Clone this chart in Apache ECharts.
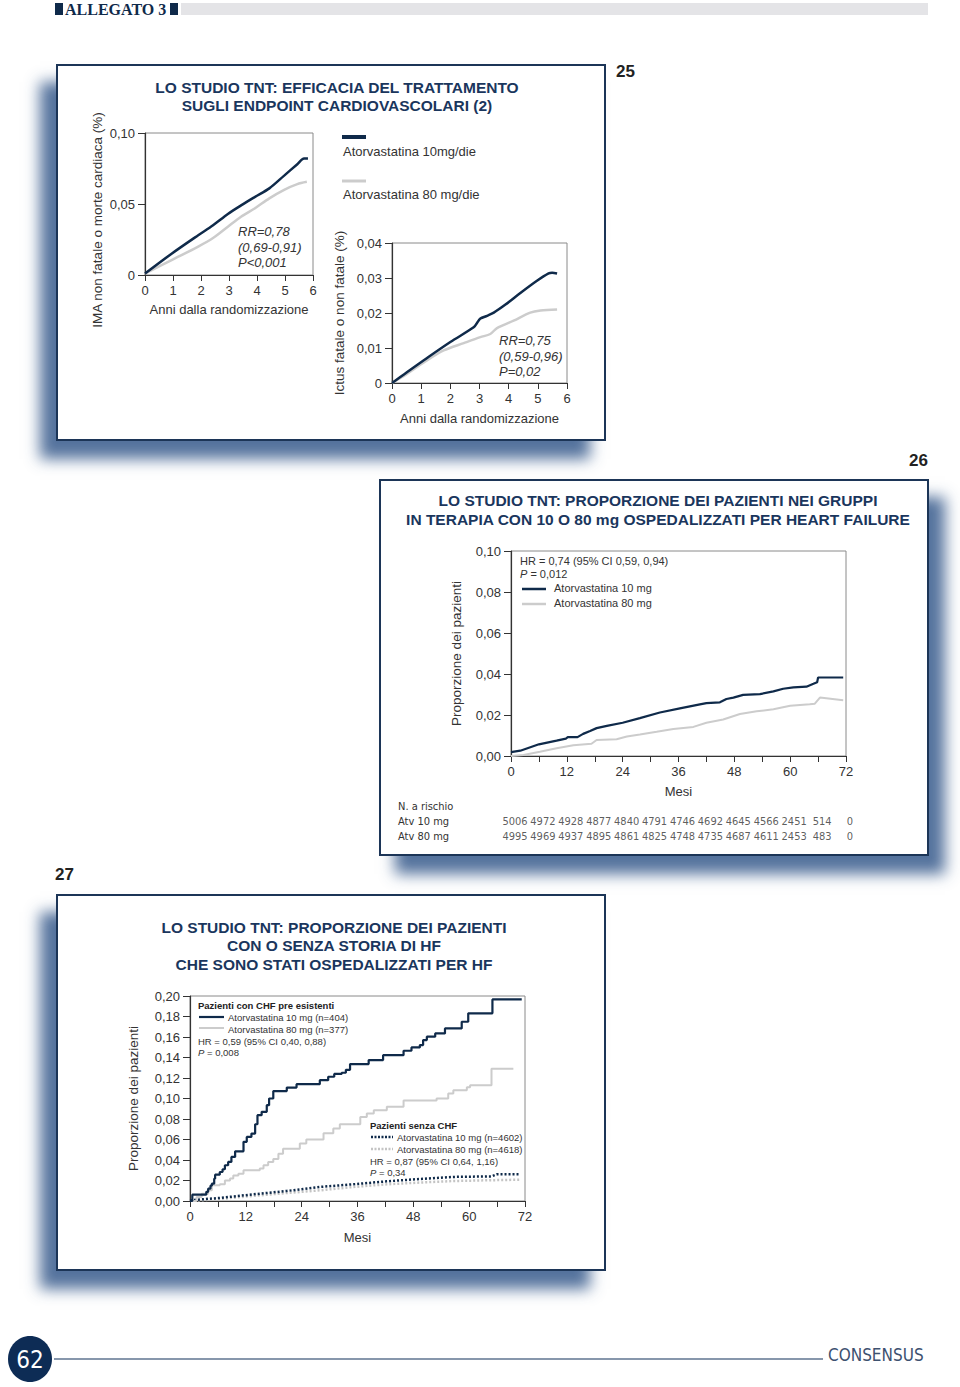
<!DOCTYPE html>
<html><head><meta charset="utf-8">
<script src="https://cdn.jsdelivr.net/npm/echarts@6/dist/echarts.min.js"></script>
<style>
html,body{margin:0;padding:0;background:#fff;}
#wrap{position:relative;width:960px;height:1387px;overflow:hidden;}
.box{position:absolute;background:#fff;border:2px solid #1c3557;box-sizing:border-box;}
#chart{position:absolute;left:0;top:0;width:960px;height:1387px;}
</style></head><body>
<div id="wrap">
<div class="box" style="left:56px;top:64px;width:550px;height:377px;box-shadow:-16px 18px 14px rgba(55,90,140,0.85);"></div>
<div class="box" style="left:379px;top:479px;width:550px;height:377px;box-shadow:16px 18px 14px rgba(55,90,140,0.85);"></div>
<div class="box" style="left:56px;top:894px;width:550px;height:377px;box-shadow:-16px 18px 14px rgba(55,90,140,0.85);"></div>
<div id="chart"></div>
</div>
<script>
// ---------- DATA ----------
// Chart 25 (left): IMA non fatale o morte cardiaca
const imaYears10 = [0, 0.95, 1.9, 2.43, 2.96, 3.43, 3.93, 4.44, 4.97, 5.44, 5.68, 5.82];
const imaVals10  = [0.001, 0.015, 0.028, 0.035, 0.043, 0.049, 0.055, 0.061, 0.070, 0.078, 0.082, 0.082];
const imaYears80 = [0, 0.95, 1.9, 2.43, 2.96, 3.43, 3.93, 4.44, 4.97, 5.44, 5.78];
const imaVals80  = [0.001, 0.0105, 0.020, 0.026, 0.034, 0.041, 0.047, 0.054, 0.060, 0.064, 0.0656];
// Chart 25 (right): Ictus fatale o non fatale
const ictYears10 = [0, 0.51, 1.09, 2.0, 2.8, 2.91, 3.03, 3.26, 3.49, 3.89, 4.4, 4.97, 5.37, 5.49, 5.66];
const ictVals10  = [0, 0.0031, 0.0065, 0.0117, 0.0159, 0.0171, 0.0184, 0.0192, 0.0201, 0.0224, 0.0257, 0.0292, 0.0313, 0.0315, 0.0313];
const ictYears80 = [0, 0.51, 1.09, 1.77, 2.46, 3.03, 3.37, 3.6, 4.17, 4.74, 5.09, 5.66];
const ictVals80  = [0, 0.0026, 0.0059, 0.0093, 0.0114, 0.0131, 0.014, 0.0157, 0.0178, 0.0201, 0.0207, 0.021];
// Chart 26: heart failure hospitalisation
const hfMonths10 = [0, 2, 6, 9.8, 11.8, 12.2, 14.3, 15.5, 17, 18.4, 20.6, 24, 27.7, 32, 36.3, 40.6, 42, 44.9, 46.3, 47.8, 49.9, 53.5, 56.4, 58.5, 60.7, 63.5, 65, 65.8, 66, 71.4];
const hfVals10   = [0.0019, 0.0026, 0.0057, 0.0075, 0.0085, 0.0092, 0.0092, 0.0108, 0.0122, 0.0136, 0.0147, 0.0162, 0.0185, 0.0212, 0.0232, 0.0252, 0.0258, 0.0262, 0.0278, 0.0285, 0.0298, 0.0302, 0.0315, 0.0328, 0.0335, 0.0338, 0.0352, 0.036, 0.0383, 0.0383];
const hfMonths80 = [0, 2.7, 6.2, 9.8, 13.4, 17.3, 18.4, 22.7, 24.9, 27.7, 31.3, 34.9, 39.2, 42, 45.6, 49.2, 52.8, 56.4, 60, 64.2, 65.3, 66.4, 71.4];
const hfVals80   = [0, 0.0005, 0.0021, 0.0038, 0.0052, 0.006, 0.0078, 0.0082, 0.0095, 0.0105, 0.0118, 0.0132, 0.0142, 0.0162, 0.0178, 0.0205, 0.0218, 0.0228, 0.0245, 0.0252, 0.0255, 0.0285, 0.0272];
// Numbers at risk
const riskMonths = [0, 6, 12, 18, 24, 30, 36, 42, 48, 54, 60, 66, 72];
const risk10 = [5006, 4972, 4928, 4877, 4840, 4791, 4746, 4692, 4645, 4566, 2451, 514, 0];
const risk80 = [4995, 4969, 4937, 4895, 4861, 4825, 4748, 4735, 4687, 4611, 2453, 483, 0];
// Chart 27: with / without CHF (step curves: month of event, new cumulative proportion)
const chfMonths10 = [0, 0.5, 3.5, 3.9, 4.4, 4.7, 5.2, 5.4, 6.4, 7, 7.5, 8.2, 8.9, 9.7, 11.5, 12.2, 13.2, 14, 14.5, 15.4, 16.5, 17, 17.9, 20.8, 22.9, 27.9, 29.7, 31, 32.6, 33.5, 34.4, 38.4, 41.5, 45.9, 47.6, 49.4, 50.1, 50.9, 52.7, 54.8, 58.4, 59.8, 65, 71.3];
const chfVals10   = [0, 0.0062, 0.009, 0.012, 0.015, 0.0169, 0.0218, 0.0257, 0.0283, 0.031, 0.0349, 0.0381, 0.043, 0.0485, 0.0577, 0.0625, 0.0658, 0.0749, 0.0837, 0.087, 0.0935, 0.1, 0.1072, 0.1107, 0.114, 0.1179, 0.1212, 0.124, 0.1251, 0.128, 0.1336, 0.1375, 0.1423, 0.1466, 0.1498, 0.1521, 0.157, 0.1603, 0.1635, 0.1684, 0.1749, 0.1831, 0.1967, 0.1967];
const chfMonths80 = [0, 1.4, 2.5, 3.9, 4.7, 6.4, 7.5, 8.6, 9.3, 10.4, 11.5, 15, 15.8, 16.8, 17.9, 19, 20, 23.6, 25, 28.7, 30.8, 32.2, 36.6, 38, 39.5, 42.3, 45.9, 53, 55.5, 56.6, 59.5, 60.2, 64.8, 69.5];
const chfVals80   = [0, 0.004, 0.007, 0.0104, 0.0153, 0.0163, 0.02, 0.022, 0.025, 0.0267, 0.03, 0.0316, 0.0349, 0.038, 0.041, 0.046, 0.051, 0.056, 0.06, 0.066, 0.0707, 0.075, 0.082, 0.0853, 0.0886, 0.0919, 0.098, 0.1, 0.105, 0.108, 0.111, 0.113, 0.129, 0.129];
const noChfMonths10 = [0, 6.4, 13.6, 20.8, 27.9, 35.1, 42.3, 49.4, 56.6, 64.8, 65.9, 71];
const noChfVals10   = [0.0007, 0.003, 0.0065, 0.0098, 0.0137, 0.0163, 0.0192, 0.0215, 0.0235, 0.024, 0.026, 0.026];
const noChfMonths80 = [0, 6.4, 13.6, 20.8, 27.9, 35.1, 42.3, 49.4, 56.6, 63.8, 71];
const noChfVals80   = [0, 0.002, 0.005, 0.0078, 0.0104, 0.0137, 0.0163, 0.018, 0.0195, 0.0202, 0.0208];

// ---------- STYLE ----------
const FONT = "'Liberation Sans', Arial, sans-serif";
const NARROW = "'Liberation Sans Narrow', 'DejaVu Sans Condensed', 'Liberation Sans', sans-serif";
const NAVY = '#0f2a4a';
const TITLE = '#1a365d';
const GREY = '#cccccc';
const TXT = '#333333';

function pairs(xs, ys) { return xs.map((x, i) => [x, ys[i]]); }
function fmt2(v) { return v.toFixed(2).replace('.', ','); }

function T(x, y, text, font, extra) {
  extra = extra || {};
  return {
    type: 'text', x: x, y: y, silent: true, rotation: extra.rotation || 0,
    style: Object.assign({
      text: text, font: font, fill: extra.fill || TXT,
      textAlign: extra.align || 'left', align: extra.align || 'left',
      textVerticalAlign: 'middle', verticalAlign: 'middle'
    }, extra.rich ? { rich: extra.rich } : {})
  };
}
function L(x1, y1, x2, y2, color, w, dash) {
  return { type: 'line', silent: true, shape: { x1, y1, x2, y2 },
    style: { stroke: color, lineWidth: w, lineDash: dash || null } };
}

function xAx(gi, max, interval, labelEvery, name, nameGap) {
  return {
    type: 'value', gridIndex: gi, min: 0, max: max, interval: interval,
    axisLine: { show: true, lineStyle: { color: '#333', width: 1.2 } },
    axisTick: { show: true, inside: false, length: 6, lineStyle: { color: '#333' } },
    axisLabel: { color: TXT, fontSize: 13, fontFamily: FONT, margin: 9,
      formatter: v => (v % labelEvery === 0 ? String(v) : '') },
    splitLine: { show: false },
    name: name, nameLocation: 'middle', nameGap: nameGap,
    nameTextStyle: { color: TXT, fontSize: 13, fontFamily: FONT }
  };
}
function yAx(gi, max, interval, fmt, name, nameGap) {
  return {
    type: 'value', gridIndex: gi, min: 0, max: max, interval: interval,
    axisLine: { show: true, lineStyle: { color: '#333', width: 1.2 } },
    axisTick: { show: true, inside: false, length: 7, lineStyle: { color: '#333' } },
    axisLabel: { color: TXT, fontSize: 13, fontFamily: FONT, margin: 10, formatter: fmt },
    splitLine: { show: false },
    name: name, nameLocation: 'middle', nameGap: nameGap, nameRotate: 90,
    nameTextStyle: { color: TXT, fontSize: 13.5, fontFamily: FONT }
  };
}
function lineS(xi, yi, data, color, width, opts) {
  return Object.assign({
    type: 'line', xAxisIndex: xi, yAxisIndex: yi, data: data, showSymbol: false,
    symbol: 'none', animation: false, silent: true,
    lineStyle: { color: color, width: width }
  }, opts || {});
}

const gridBase = { show: true, borderColor: '#8a8a8a', borderWidth: 1, backgroundColor: 'transparent', containLabel: false, outerBoundsMode: 'none' };
const TF = "bold 15.5px " + FONT;

const option = {
  animation: false,
  backgroundColor: 'transparent',
  textStyle: { fontFamily: FONT },
  grid: [
    Object.assign({ left: 145, top: 133, width: 168, height: 142 }, gridBase),
    Object.assign({ left: 392, top: 243, width: 175, height: 140 }, gridBase),
    Object.assign({ left: 511, top: 551, width: 335, height: 205 }, gridBase),
    Object.assign({ left: 190, top: 996, width: 335, height: 205 }, gridBase),
    { left: 511, top: 821, width: 335, height: 15, show: false, containLabel: false, outerBoundsMode: 'none' }
  ],
  xAxis: [
    xAx(0, 6, 1, 1, 'Anni dalla randomizzazione', 28),
    xAx(1, 6, 1, 1, 'Anni dalla randomizzazione', 29),
    xAx(2, 72, 6, 12, 'Mesi', 29),
    xAx(3, 72, 6, 12, 'Mesi', 30),
    { type: 'value', gridIndex: 4, min: 0, max: 72, show: false }
  ],
  yAxis: [
    yAx(0, 0.10, 0.05, v => (v === 0 ? '0' : fmt2(v)), '', 41),
    yAx(1, 0.04, 0.01, v => (v === 0 ? '0' : fmt2(v)), 'Ictus fatale o non fatale (%)', 46),
    yAx(2, 0.10, 0.02, v => fmt2(v), 'Proporzione dei pazienti', 48),
    yAx(3, 0.20, 0.02, v => fmt2(v), 'Proporzione dei pazienti', 50),
    { type: 'value', gridIndex: 4, min: 0, max: 1, show: false }
  ],
  series: [
    lineS(0, 0, pairs(imaYears80, imaVals80), GREY, 2.5, { smooth: 0.3 }),
    lineS(0, 0, pairs(imaYears10, imaVals10), NAVY, 2.5, { smooth: 0.3 }),
    lineS(1, 1, pairs(ictYears80, ictVals80), GREY, 2.5, { smooth: 0.3 }),
    lineS(1, 1, pairs(ictYears10, ictVals10), NAVY, 2.5, { smooth: 0.3 }),
    lineS(2, 2, pairs(hfMonths80, hfVals80), GREY, 2),
    lineS(2, 2, pairs(hfMonths10, hfVals10), NAVY, 2.2),
    lineS(3, 3, pairs(noChfMonths80, noChfVals80), '#c4c4c4', 2.5, { lineStyle: { color: '#c4c4c4', width: 2.5, type: [2, 2] } }),
    lineS(3, 3, pairs(noChfMonths10, noChfVals10), NAVY, 2.5, { lineStyle: { color: NAVY, width: 2.5, type: [2, 2] } }),
    lineS(3, 3, pairs(chfMonths80, chfVals80), GREY, 2, { step: 'end' }),
    lineS(3, 3, pairs(chfMonths10, chfVals10), NAVY, 2.2, { step: 'end' }),
    {
      type: 'scatter', xAxisIndex: 4, yAxisIndex: 4, symbolSize: 0, silent: true, animation: false,
      data: riskMonths.map((m, i) => [m, 1, risk10[i]]),
      label: { show: true, position: 'inside', offset: [4, 0], color: TXT, fontSize: 11, fontFamily: NARROW, formatter: p => String(p.value[2]) }
    },
    {
      type: 'scatter', xAxisIndex: 4, yAxisIndex: 4, symbolSize: 0, silent: true, animation: false,
      data: riskMonths.map((m, i) => [m, 0, risk80[i]]),
      label: { show: true, position: 'inside', offset: [4, 0], color: TXT, fontSize: 11, fontFamily: NARROW, formatter: p => String(p.value[2]) }
    }
  ],
  graphic: { elements: [
    // header
    { type: 'rect', silent: true, shape: { x: 55, y: 3, width: 8, height: 12 }, style: { fill: NAVY } },
    T(65, 9, 'ALLEGATO 3', "bold 16px 'Liberation Serif', serif", { fill: NAVY }),
    { type: 'rect', silent: true, shape: { x: 170, y: 3, width: 8, height: 12 }, style: { fill: NAVY } },
    { type: 'rect', silent: true, shape: { x: 181, y: 3, width: 747, height: 12 }, style: { fill: '#e4e4e7' } },
    // panel numbers
    T(616, 71, '25', "bold 17px " + FONT, { fill: '#222' }),
    T(928, 460, '26', "bold 17px " + FONT, { fill: '#222', align: 'right' }),
    T(55, 874, '27', "bold 17px " + FONT, { fill: '#222' }),
    // titles
    T(337, 87, 'LO STUDIO TNT: EFFICACIA DEL TRATTAMENTO', TF, { fill: TITLE, align: 'center' }),
    T(337, 105, 'SUGLI ENDPOINT CARDIOVASCOLARI (2)', TF, { fill: TITLE, align: 'center' }),
    T(658, 500, 'LO STUDIO TNT: PROPORZIONE DEI PAZIENTI NEI GRUPPI', TF, { fill: TITLE, align: 'center' }),
    T(658, 519, 'IN TERAPIA CON 10 O 80 mg OSPEDALIZZATI PER HEART FAILURE', TF, { fill: TITLE, align: 'center' }),
    T(334, 927, 'LO STUDIO TNT: PROPORZIONE DEI PAZIENTI', TF, { fill: TITLE, align: 'center' }),
    T(334, 945, 'CON O SENZA STORIA DI HF', TF, { fill: TITLE, align: 'center' }),
    T(334, 964, 'CHE SONO STATI OSPEDALIZZATI PER HF', TF, { fill: TITLE, align: 'center' }),
    // chart 25 texts
    T(97, 220, 'IMA non fatale o morte cardiaca (%)', "13.5px " + FONT, { align: 'center', rotation: Math.PI / 2 }),
    T(238, 231, 'RR=0,78', "italic 13px " + FONT),
    T(238, 247, '(0,69-0,91)', "italic 13px " + FONT),
    T(238, 262, 'P<0,001', "italic 13px " + FONT),
    L(342, 137, 366, 137, NAVY, 4),
    T(343, 151, 'Atorvastatina 10mg/die', "13px " + FONT),
    L(342, 181, 366, 181, GREY, 3),
    T(343, 194, 'Atorvastatina 80 mg/die', "13px " + FONT),
    T(499, 340, 'RR=0,75', "italic 13px " + FONT),
    T(499, 356, '(0,59-0,96)', "italic 13px " + FONT),
    T(499, 371, 'P=0,02', "italic 13px " + FONT),
    // chart 26 legend
    T(520, 561, 'HR = 0,74 (95% CI 0,59, 0,94)', "11px " + FONT),
    T(520, 574, '{i|P} = 0,012', "11px " + FONT, { rich: { i: { fontStyle: 'italic', fontSize: 11, fontFamily: FONT } } }),
    L(522, 589, 546, 589, NAVY, 2.5),
    T(554, 588, 'Atorvastatina 10 mg', "11px " + FONT),
    L(522, 604, 546, 604, GREY, 2.5),
    T(554, 603, 'Atorvastatina 80 mg', "11px " + FONT),
    // risk table labels
    T(398, 806, 'N. a rischio', "11px " + NARROW),
    T(398, 821, 'Atv 10 mg', "11px " + NARROW),
    T(398, 836, 'Atv 80 mg', "11px " + NARROW),
    // chart 27 legends
    T(198, 1005, 'Pazienti con CHF pre esistenti', "bold 9.5px " + FONT, { fill: '#222' }),
    L(199, 1017, 224, 1017, NAVY, 2.2),
    T(228, 1017, 'Atorvastatina 10 mg (n=404)', "9.5px " + FONT),
    L(199, 1028, 224, 1028, GREY, 2),
    T(228, 1029, 'Atorvastatina 80 mg (n=377)', "9.5px " + FONT),
    T(198, 1041, 'HR = 0,59 (95% CI 0,40, 0,88)', "9.5px " + FONT),
    T(198, 1052, '{i|P} = 0,008', "9.5px " + FONT, { rich: { i: { fontStyle: 'italic', fontSize: 9.5, fontFamily: FONT } } }),
    T(370, 1125, 'Pazienti senza CHF', "bold 9.5px " + FONT, { fill: '#222' }),
    L(371, 1137, 393, 1137, NAVY, 2.5, [2, 1.5]),
    T(397, 1137, 'Atorvastatina 10 mg (n=4602)', "9.5px " + FONT),
    L(371, 1149, 393, 1149, '#c4c4c4', 2.5, [2, 1.5]),
    T(397, 1149, 'Atorvastatina 80 mg (n=4618)', "9.5px " + FONT),
    T(370, 1161, 'HR = 0,87 (95% CI 0,64, 1,16)', "9.5px " + FONT),
    T(370, 1172, '{i|P} = 0,34', "9.5px " + FONT, { rich: { i: { fontStyle: 'italic', fontSize: 9.5, fontFamily: FONT } } }),
    // footer
    { type: 'ellipse', silent: true, shape: { cx: 30, cy: 1359, rx: 22, ry: 23 }, style: { fill: '#0d2c55' } },
    T(30, 1360, '62', "24px " + NARROW, { fill: '#ffffff', align: 'center' }),
    L(54, 1359, 823, 1359, '#5f7590', 1.5),
    T(828, 1355, 'CONSENSUS', "17px " + NARROW, { fill: '#3d5170' })
  ] }
};

const chart = echarts.init(document.getElementById('chart'), null, { renderer: 'svg', width: 960, height: 1387 });
chart.setOption(option);
</script>
</body></html>
